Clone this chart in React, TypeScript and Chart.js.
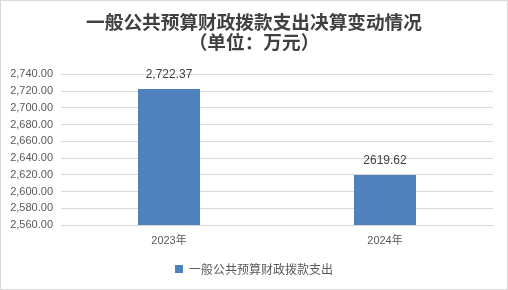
import React, { useEffect, useRef } from "react";
import { Chart, registerables } from "chart.js";

Chart.register(...registerables);

const categories = ["2023年", "2024年"];
const values = [2722.37, 2619.62];
const valueLabels = ["2,722.37", "2619.62"];
const seriesName = "一般公共预算财政拨款支出";
const titleLines = ["一般公共预算财政拨款支出决算变动情况", "（单位：万元）"];
const yMin = 2560;
const yMax = 2740;
const yStep = 20;

const borderPlugin = {
  id: "frameBorder",
  beforeDraw(chart: any) {
    const ctx = chart.ctx;
    ctx.save();
    ctx.fillStyle = "#ffffff";
    ctx.fillRect(0, 0, chart.width, chart.height);
    ctx.strokeStyle = "#d9d9d9";
    ctx.lineWidth = 1;
    ctx.strokeRect(0.5, 0.5, chart.width - 1, chart.height - 1);
    ctx.restore();
  },
};

const valueLabelPlugin = {
  id: "valueLabels",
  afterDatasetsDraw(chart: any) {
    const ctx = chart.ctx;
    const meta = chart.getDatasetMeta(0);
    ctx.save();
    ctx.font = "12px 'Liberation Sans', Arial, sans-serif";
    ctx.fillStyle = "#404040";
    ctx.textAlign = "center";
    ctx.textBaseline = "middle";
    meta.data.forEach((bar: any, i: number) => {
      ctx.fillText(valueLabels[i], bar.x, bar.y - 14.5);
    });
    ctx.restore();
  },
};

export default function App() {
  const ref = useRef<HTMLCanvasElement | null>(null);

  useEffect(() => {
    document.body.style.margin = "0";
    const canvas = ref.current;
    if (!canvas) return;
    const chart = new Chart(canvas, {
      type: "bar",
      data: {
        labels: categories,
        datasets: [
          {
            label: seriesName,
            data: values,
            backgroundColor: "#4f81bd",
            borderWidth: 0,
            barPercentage: 0.287,
            categoryPercentage: 1,
            yAxisID: "y",
          },
        ],
      },
      options: {
        responsive: false,
        animation: false,
        devicePixelRatio: 1,
        layout: { padding: { left: 0, right: 0, top: 0, bottom: 5 } },
        plugins: {
          title: {
            display: true,
            text: titleLines,
            color: "#404040",
            font: { family: "'Noto Sans CJK SC', sans-serif", size: 18.67, weight: "bold", lineHeight: 1.12 },
            padding: { top: 11, bottom: 21.5 },
          },
          legend: {
            display: true,
            position: "bottom",
            labels: {
              boxWidth: 8,
              boxHeight: 8,
              color: "#595959",
              padding: 8,
              font: { family: "'Noto Sans CJK SC', sans-serif", size: 12 },
            },
          },
          tooltip: { enabled: false },
        },
        scales: {
          x: {
            grid: { display: false, drawTicks: false },
            border: { display: true, color: "#d9d9d9" },
            ticks: {
              color: "#595959",
              padding: 9,
              font: { family: "'Liberation Sans', 'Noto Sans CJK SC', sans-serif", size: 11 },
            },
            afterFit(scale: any) {
              scale.height = 30;
            },
          },
          y: {
            position: "left",
            min: yMin,
            max: yMax,
            grid: { color: "#d9d9d9", drawTicks: false },
            border: { display: false },
            ticks: {
              stepSize: yStep,
              color: "#595959",
              padding: 8,
              font: { family: "'Liberation Sans', sans-serif", size: 11 },
              callback: (v: any) =>
                Number(v).toLocaleString("en-US", { minimumFractionDigits: 2, maximumFractionDigits: 2 }),
            },
            afterFit(scale: any) {
              scale.width = 61;
            },
          },
          yRight: {
            position: "right",
            min: yMin,
            max: yMax,
            grid: { display: false, drawTicks: false },
            border: { display: false },
            ticks: { display: false },
            afterFit(scale: any) {
              scale.width = 15;
            },
          },
        },
      },
      plugins: [borderPlugin, valueLabelPlugin],
    });
    return () => chart.destroy();
  }, []);

  return <canvas ref={ref} width={508} height={290} style={{ display: "block" }} />;
}
